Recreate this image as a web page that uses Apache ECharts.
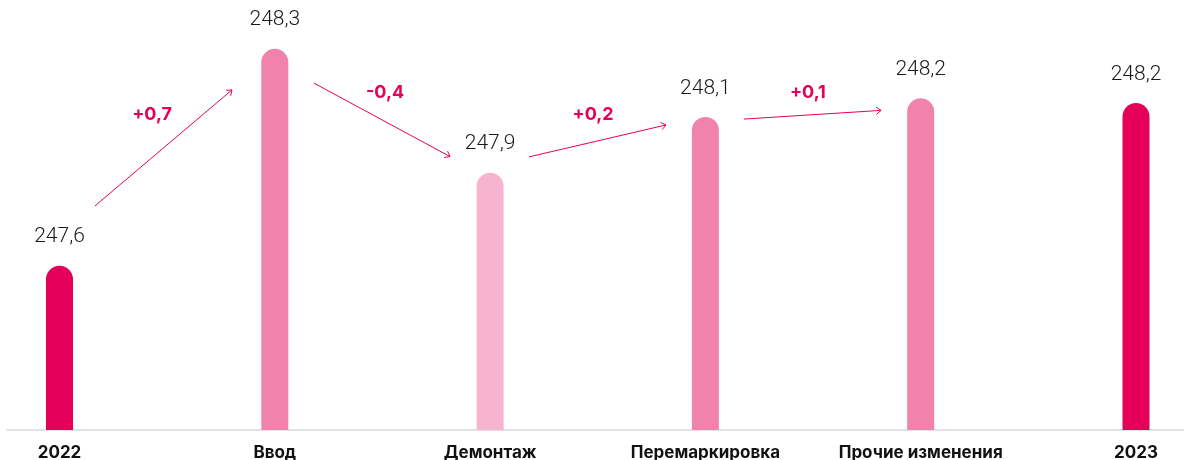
<!DOCTYPE html>
<html>
<head>
<meta charset="utf-8">
<script src="https://cdn.jsdelivr.net/npm/echarts@6/dist/echarts.min.js"></script>
<style>
  html, body { margin: 0; background: #fff; }
  #chart { width: 1184px; height: 460px; }
</style>
</head>
<body>
<div id="chart"></div>
<script>
const categories = ['2022', 'Ввод', 'Демонтаж', 'Перемаркировка', 'Прочие изменения', '2023'];
// bar heights as drawn in the picture
const barValues = [247.6, 248.3, 247.9, 248.08, 248.14, 248.125];
const valueLabels = ['247,6', '248,3', '247,9', '248,1', '248,2', '248,2'];
const barColors = ['#e5005a', '#f082ac', '#f7b4cf', '#f082ac', '#f082ac', '#e5005a'];

// change arrows between bars: [category position, value]
const arrowFrom = [[0.165, 247.793], [1.182, 248.189], [2.181, 247.951], [3.179, 248.073]];
const arrowTo = [[0.801, 248.167], [1.814, 247.952], [2.817, 248.054], [3.816, 248.101]];
const deltaLabels = ['+0,7', '-0,4', '+0,2', '+0,1'];
const deltaPos = [[0.43, 248.086], [1.512, 248.157], [2.478, 248.086], [3.476, 248.157]];

const accent = '#e5005a';

const chart = echarts.init(document.getElementById('chart'));

function renderArrow(params, api) {
    const i = params.dataIndex;
    // category axis rounds fractional positions, so offset by band width
    const band = api.size([1, 0])[0];
    const toPx = (pt) => {
        const base = api.coord([0, pt[1]]);
        return [base[0] + pt[0] * band, base[1]];
    };
    const p0 = toPx(arrowFrom[i]);
    const p1 = toPx(arrowTo[i]);
    const lp = toPx(deltaPos[i]);
    const ang = Math.atan2(p1[1] - p0[1], p1[0] - p0[0]);
    const h = 6, a = 0.65;
    const w1 = [p1[0] - h * Math.cos(ang - a), p1[1] - h * Math.sin(ang - a)];
    const w2 = [p1[0] - h * Math.cos(ang + a), p1[1] - h * Math.sin(ang + a)];
    return {
        type: 'group',
        children: [
            { type: 'line', shape: { x1: p0[0], y1: p0[1], x2: p1[0], y2: p1[1] },
              style: { stroke: accent, lineWidth: 1 } },
            { type: 'polyline', shape: { points: [w1, p1, w2] },
              style: { stroke: accent, fill: null, lineWidth: 1 } },
            { type: 'text', x: lp[0], y: lp[1],
              style: { text: deltaLabels[i], fill: accent,
                       fontFamily: 'Inter', fontWeight: 700, fontSize: 18,
                       align: 'center', verticalAlign: 'middle' } },
        ],
    };
}

chart.setOption({
    animation: false,
    grid: [
        { left: -48.15, right: -59.65, top: 17.7, bottom: 30, outerBoundsMode: 'none' },
        { left: 7, right: 0, top: 17.7, bottom: 30, outerBoundsMode: 'none' },
    ],
    xAxis: [
        {
            type: 'category',
            data: categories,
            axisLine: { show: false },
            axisTick: { show: false },
            axisLabel: { interval: 0, color: '#111', fontFamily: 'Inter', fontWeight: 700, fontSize: 17, margin: 14 },
        },
        {
            type: 'value',
            gridIndex: 1,
            min: 0,
            max: 1,
            axisLine: { show: true, onZero: false, lineStyle: { color: '#e2e2e6', width: 2 } },
            axisTick: { show: false },
            axisLabel: { show: false },
            splitLine: { show: false },
        },
    ],
    yAxis: [
        { type: 'value', min: 247.07, max: 248.4, show: false },
        { type: 'value', gridIndex: 1, min: 0, max: 1, show: false },
    ],
    series: [
        {
            type: 'bar',
            barWidth: 27,
            data: barValues.map((v, i) => ({ value: v, itemStyle: { color: barColors[i] } })),
            itemStyle: { borderRadius: [13.5, 13.5, 0, 0] },
            label: {
                show: true,
                position: 'top',
                distance: 18,
                color: '#1a1a1a',
                fontFamily: 'Roboto',
                fontWeight: 300,
                fontSize: 21,
                formatter: p => valueLabels[p.dataIndex],
            },
            z: 3,
        },
        {
            type: 'custom',
            clip: false,
            renderItem: renderArrow,
            data: arrowFrom.map((f, i) => [i, f[1]]),
            z: 4,
        },
    ],
});
</script>
</body>
</html>
